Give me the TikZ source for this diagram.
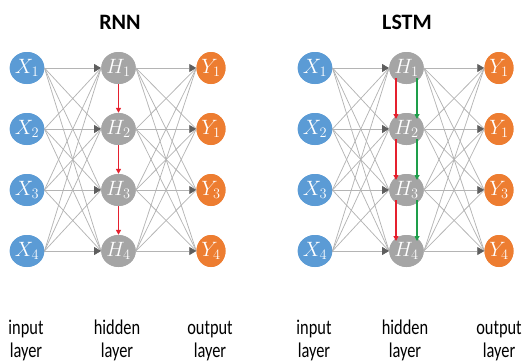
\documentclass[tikz,border=0pt]{standalone}
\usepackage{fontspec}
\setmainfont{Carlito}
\usetikzlibrary{arrows.meta,shapes.geometric}
\definecolor{xblue}{HTML}{5B9BD5}
\definecolor{hgray}{HTML}{A5A5A5}
\definecolor{yorange}{HTML}{ED7D31}
\definecolor{linegray}{HTML}{B4B4B4}
\definecolor{tipgray}{HTML}{5E5E5E}
\definecolor{rred}{HTML}{E5202E}
\definecolor{ggreen}{HTML}{1E9E4A}
\begin{document}
\begin{tikzpicture}[x=1pt,y=-1pt,
  neuron/.style={ellipse,minimum width=29pt,minimum height=32pt,inner sep=0pt,text=white,font=\fontsize{20}{20}\selectfont},
  xn/.style={neuron,fill=xblue},
  hn/.style={neuron,fill=hgray},
  yn/.style={neuron,fill=yorange},
  conn/.style={draw=linegray,line width=0.75pt},
  tipconn/.style={conn,-{Triangle[length=7pt,width=8pt,color=tipgray]}},
  redrec/.style={draw=rred,line width=1.4pt,-{Triangle[length=5pt,width=5pt,color=rred]}},
  greenrec/.style={draw=ggreen,line width=1.4pt,-{Triangle[length=5pt,width=5pt,color=ggreen]}},
  title/.style={font=\fontsize{22}{22}\selectfont\bfseries},
  lbl/.style={align=center,inner sep=0pt}
]
\useasboundingbox (0,0) rectangle (522,362);
\newcommand{\lblt}[2]{\scalebox{0.78}[1]{\fontsize{21}{23}\selectfont\begin{tabular}{@{}c@{}}#1\\#2\end{tabular}}}
% titles
\node[title] (trnn) at (120,22) {RNN};
\node[title] (tlstm) at (407,22) {LSTM};
% nodes
\foreach \p/\dx in {r/0,l/288}{
  \foreach \i/\yy/\yl in {1/68/1,2/129/1,3/190/3,4/251/4}{
    \node[xn] (\p x\i) at (27+\dx,\yy) {$X_{\i}$};
    \node[hn] (\p h\i) at (118.5+\dx,\yy) {$H_{\i}$};
    \node[yn] (\p y\i) at (211+\dx,\yy) {$Y_{\yl}$};
  }
}
% connections
\foreach \p in {r,l}{
  \foreach \i in {1,...,4}{
    \foreach \j in {1,...,4}{
      \ifnum\i=\j\relax
        \draw[tipconn] (\p x\i.east) -- (\p h\j.west);
        \draw[tipconn] (\p h\i.east) -- (\p y\j.west);
      \else
        \draw[conn] (\p x\i.east) -- (\p h\j.west);
        \draw[conn] (\p h\i.east) -- (\p y\j.west);
      \fi
    }
  }
}
% redraw nodes on top
\foreach \p/\dx in {r/0,l/288}{
  \foreach \i/\yy/\yl in {1/68/1,2/129/1,3/190/3,4/251/4}{
    \node[xn] at (\p x\i) {$X_{\i}$};
    \node[hn] at (\p h\i) {$H_{\i}$};
    \node[yn] at (\p y\i) {$Y_{\yl}$};
  }
}
% free ends of the LSTM recurrent arrows
\foreach \i/\yy in {1/68,2/129,3/190,4/251}{
  \coordinate (lrb\i) at (396,\yy+10);
  \coordinate (lrt\i) at (396,\yy-10);
  \coordinate (lgb\i) at (417,\yy+10);
  \coordinate (lgt\i) at (417,\yy-10);
}
% recurrent arrows
\foreach \i/\j in {1/2,2/3,3/4}{
  \draw[redrec] (rh\i.south) -- (rh\j.north);
  \draw[redrec] (lrb\i) -- (lrt\j);
  \draw[greenrec] (lgb\i) -- (lgt\j);
}
% layer labels
\node[lbl] (l1) at (26,341) {\lblt{input}{layer}};
\node[lbl] (l2) at (117,341) {\lblt{hidden}{layer}};
\node[lbl] (l3) at (210,341) {\lblt{output}{layer}};
\node[lbl] (l4) at (314,341) {\lblt{input}{layer}};
\node[lbl] (l5) at (405,341) {\lblt{hidden}{layer}};
\node[lbl] (l6) at (499,341) {\lblt{output}{layer}};
\end{tikzpicture}
\end{document}
